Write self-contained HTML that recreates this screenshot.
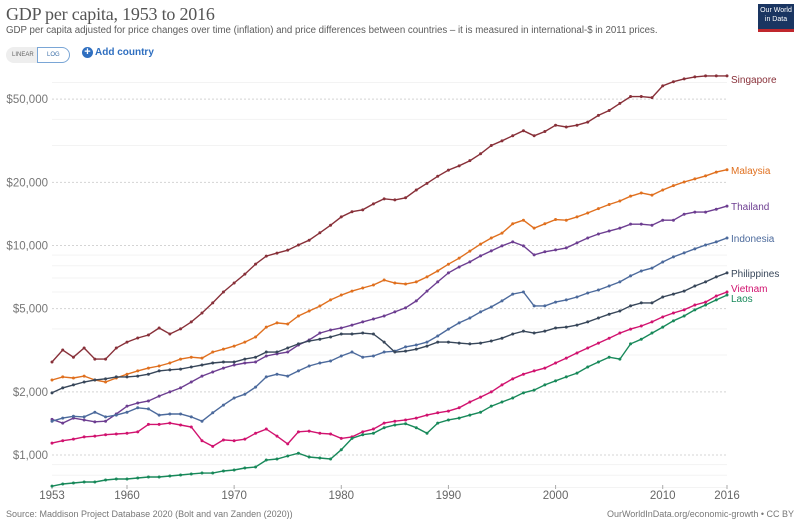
<!DOCTYPE html>
<html><head><meta charset="utf-8">
<style>
body{margin:0;background:#fff;font-family:"Liberation Sans",sans-serif;}
#wrap{position:relative;width:800px;height:523px;overflow:hidden;}
.title{position:absolute;left:6px;top:4px;font-family:"Liberation Serif",serif;font-size:18px;color:#555;letter-spacing:-0.2px;}
.sub{position:absolute;left:6px;top:25px;font-size:9.7px;color:#5b5b5b;}
.logo{position:absolute;left:758px;top:4px;width:36px;height:28px;background:#1a3561;color:#fff;font-size:7px;line-height:8.5px;text-align:center;padding-top:3px;box-sizing:border-box;border-bottom:3px solid #c0272d;}
.toggle{position:absolute;left:6px;top:47px;height:16px;width:63px;border-radius:8px;background:#eee;font-size:6px;color:#666;}
.toggle span{position:absolute;top:5px;}
.log{position:absolute;left:31px;top:0;width:31px;height:14px;border:1px solid #7aa6d6;border-radius:0 8px 8px 0;background:#fff;}
.add{position:absolute;left:82px;top:47px;font-size:10px;color:#2f6fc0;font-weight:bold;}
.add b{display:inline-block;width:11px;height:11px;border-radius:50%;background:#2f6fc0;color:#fff;text-align:center;line-height:11px;font-size:11px;margin-right:2px;}
.foot{position:absolute;top:509px;font-size:9px;color:#777;}
</style></head><body>
<div id="wrap">
<div class="title">GDP per capita, 1953 to 2016</div>
<div class="sub">GDP per capita adjusted for price changes over time (inflation) and price differences between countries – it is measured in international-$ in 2011 prices.</div>
<div class="logo">Our World<br>in Data</div>
<div class="toggle"><span style="left:6px">LINEAR</span><div class="log"><span style="left:9px;top:4px;color:#3a6ea8">LOG</span></div></div>
<div class="add"><b>+</b>Add country</div>
<svg id="chart" width="800" height="523" style="position:absolute;left:0;top:0"></svg>
<div class="foot" style="left:6px">Source: Maddison Project Database 2020 (Bolt and van Zanden (2020))</div>
<div class="foot" style="right:6px">OurWorldInData.org/economic-growth • CC BY</div>
</div>
<script>
const startYear = 1953;
const countries = ["Singapore","Malaysia","Thailand","Indonesia","Philippines","Vietnam","Laos"];
const singapore = [2780,3170,2930,3240,2870,2870,3240,3460,3620,3740,4040,3780,4000,4320,4760,5320,6000,6620,7300,8150,8900,9200,9500,10050,10600,11500,12500,13700,14500,14800,15800,16700,16500,16900,18400,19800,21400,22900,24000,25400,27400,30000,31600,33400,35300,33400,35000,37500,36800,37500,38800,41800,44100,47700,51400,51400,50800,57800,60500,62400,63800,64500,64500,64500];
const malaysia = [2280,2360,2330,2380,2280,2230,2330,2430,2520,2600,2660,2750,2870,2930,2900,3100,3200,3310,3460,3660,4080,4270,4220,4610,4870,5140,5500,5800,6060,6270,6480,6840,6620,6550,6700,7080,7560,8140,8700,9400,10150,10860,11450,12700,13200,12100,12700,13300,13200,13700,14300,15000,15700,16300,17200,17800,17400,18400,19300,20100,20800,21500,22400,23000];
const thailand = [1480,1420,1500,1470,1440,1450,1570,1710,1770,1810,1910,2000,2090,2230,2380,2490,2600,2690,2750,2780,2970,3040,3100,3350,3540,3820,3950,4040,4170,4320,4460,4610,4820,5040,5440,6060,6700,7400,7900,8350,8920,9420,9960,10400,9960,9020,9330,9530,9740,10290,10860,11350,11720,12100,12640,12640,12500,13200,13200,14100,14440,14440,14900,15420];
const indonesia = [1450,1500,1530,1520,1600,1520,1550,1600,1680,1660,1550,1570,1570,1520,1450,1590,1730,1870,1950,2110,2360,2430,2380,2520,2660,2750,2810,2970,3100,2930,2970,3100,3130,3280,3350,3460,3700,3990,4270,4510,4820,5090,5440,5860,6000,5150,5150,5370,5500,5680,5930,6130,6410,6700,7160,7560,7800,8340,8820,9220,9640,10060,10400,10860];
const philippines = [1980,2090,2160,2230,2280,2310,2360,2360,2380,2430,2520,2550,2570,2630,2690,2750,2780,2780,2870,2930,3100,3100,3240,3390,3500,3570,3660,3780,3780,3820,3780,3460,3100,3130,3200,3310,3460,3460,3420,3390,3420,3500,3610,3780,3900,3820,3900,4040,4080,4170,4320,4510,4700,4870,5150,5320,5320,5680,5860,6060,6410,6700,7080,7400];
const vietnam = [1140,1170,1190,1220,1230,1250,1260,1270,1290,1400,1400,1420,1390,1360,1170,1100,1180,1170,1190,1270,1330,1230,1130,1290,1300,1270,1260,1200,1220,1290,1330,1420,1450,1470,1500,1550,1590,1620,1680,1790,1890,2000,2160,2310,2430,2520,2600,2750,2900,3070,3240,3420,3610,3820,3990,4130,4320,4560,4760,4930,5200,5370,5740,6000];
const laos = [710,727,735,743,743,760,768,768,777,785,785,794,803,812,820,820,839,848,867,876,946,957,989,1020,978,968,957,1060,1200,1250,1270,1350,1390,1410,1350,1270,1420,1470,1500,1550,1600,1710,1790,1870,1980,2040,2160,2260,2360,2460,2630,2780,2930,2870,3390,3570,3820,4080,4370,4610,4930,5200,5500,5800];
const yTickValues = [1000,2000,5000,10000,20000,50000];
const yTickLabels = ["$1,000","$2,000","$5,000","$10,000","$20,000","$50,000"];
const yMinorValues = [700,800,900,3000,4000,6000,7000,8000,9000,30000,40000,60000];
const xTickValues = [1953,1960,1970,1980,1990,2000,2010,2016];

const series = [singapore,malaysia,thailand,indonesia,philippines,vietnam,laos];
const colors = ["#883039","#e0701f","#6d3e91","#4c6a9c","#38475a","#d1136f","#18895a"];
const labelYs = [79,170,206,238,273,288,298];

function xScale(year){return 52 + (year-1953)*(727-52)/(2016-1953);}
function yScale(v){return 455 - Math.log10(v/1000)*209.5;}

const svg = document.getElementById('chart');
const NS = 'http://www.w3.org/2000/svg';
function mk(tag, attrs){const e=document.createElementNS(NS,tag);for(const k in attrs)e.setAttribute(k,attrs[k]);svg.appendChild(e);return e;}

yMinorValues.forEach(v=>{
  const l = mk('line',{x1:52,x2:727,y1:yScale(v),y2:yScale(v),stroke:'#f3f3f3','stroke-width':1});
  
  
});
yTickValues.forEach((v,i)=>{
  const l = mk('line',{x1:52,x2:727,y1:yScale(v),y2:yScale(v),stroke:'#d4d4d4','stroke-width':1,'stroke-dasharray':'2,2'});
  
  
  const t = mk('text',{x:48,y:yScale(v)+4,'text-anchor':'end','font-size':11.5,fill:'#777','font-family':'Liberation Sans, sans-serif'});
  t.textContent = yTickLabels[i];
  
  
});
xTickValues.forEach(y=>{
  const tk = mk('line',{x1:xScale(y),x2:xScale(y),y1:485,y2:489,stroke:'#aaa'});
  
  
  const t = mk('text',{x:xScale(y),y:499,'text-anchor':'middle','font-size':11.5,fill:'#666','font-family':'Liberation Sans, sans-serif'});
  t.textContent = y;
  
  
});
series.forEach((vals,si)=>{
  const pts = vals.map((v,i)=>xScale(startYear+i).toFixed(1)+','+yScale(v).toFixed(1)).join(' ');
  const pl = mk('polyline',{points:pts,fill:'none',stroke:colors[si],'stroke-width':1.4});
  
  
  vals.forEach((v,i)=>{
    const c = mk('circle',{cx:xScale(startYear+i),cy:yScale(v),r:1.5,fill:colors[si]});
    
    
  });
  const t = mk('text',{x:731,y:labelYs[si]+4,'font-size':10,fill:colors[si],'font-family':'Liberation Sans, sans-serif'});
  t.textContent = countries[si];
  
  
});
</script>
</body></html>
